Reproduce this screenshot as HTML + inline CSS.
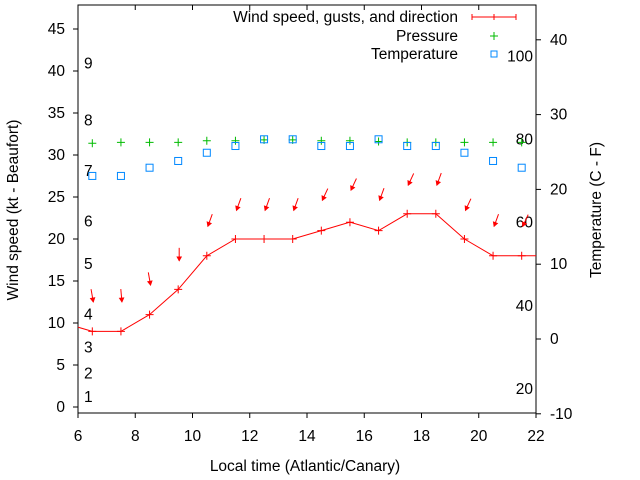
<!DOCTYPE html>
<html><head><meta charset="utf-8"><style>
html,body{margin:0;padding:0;background:#fff}
svg{display:block;font-family:"Liberation Sans",sans-serif}
</style></head><body>
<svg id="chart" width="640" height="480">
<g id="axes"></g>
<g id="marks"></g>
</svg>
<script>
const hours=[6.5,7.5,8.5,9.5,10.5,11.5,12.5,13.5,14.5,15.5,16.5,17.5,18.5,19.5,20.5,21.5];
const windSpeed=[9,9,11,14,18,20,20,20,21,22,21,23,23,20,18,18];
const gusts=[12.5,12.5,14.5,17.4,21.5,23.4,23.4,23.4,24.6,25.8,24.6,26.4,26.4,23.4,21.5,21.5];
const windDir=[350,355,350,0,20,20,20,20,25,25,20,25,20,25,20,25];
const pressure=[31.4,31.5,31.5,31.5,31.7,31.7,31.8,31.8,31.7,31.7,31.6,31.5,31.5,31.5,31.5,31.5];
const temperature=[21.8,21.8,22.9,23.8,24.9,25.8,26.7,26.7,25.8,25.8,26.7,25.8,25.8,24.9,23.8,22.9];
const xTicks=[6,8,10,12,14,16,18,20,22];
const yTicks=[0,5,10,15,20,25,30,35,40,45];
const y2Ticks=[-10,0,10,20,30,40];
const beaufort=[[1,1.2],[2,4.0],[3,7.1],[4,11.0],[5,17.0],[6,22.1],[7,28.1],[8,34.1],[9,40.9]];
const fahr=[20,40,60,80,100];

const FS=15.5;
const X0=78,X1=536,YT=5,YB=413;
const xs=v=>X0+(v-6)/16*(X1-X0);
const ys=v=>407-v*8.4;
const y2s=v=>339-v*7.48;
const NS='http://www.w3.org/2000/svg';
function mk(parent,tag,attrs,text){const e=document.createElementNS(NS,tag);for(const k in attrs)e.setAttribute(k,attrs[k]);if(text!==undefined)e.textContent=text;parent.appendChild(e);return e;}
const ax=document.getElementById('axes'),mg=document.getElementById('marks');

let fr=mk(ax,'rect',{x:X0,y:YT,width:X1-X0,height:YB-YT,fill:'none',stroke:'#000','stroke-width':1});


xTicks.forEach(t=>{const x=xs(t);
 mk(ax,'line',{x1:x,y1:YB,x2:x,y2:YB+5,stroke:'#000'});
 mk(ax,'line',{x1:x,y1:YT,x2:x,y2:YT+5,stroke:'#000'});
 const l=mk(ax,'text',{x:x,y:441,'text-anchor':'middle','font-size':FS},t);
 
 });
yTicks.forEach(t=>{const y=ys(t);
 mk(ax,'line',{x1:X0-5,y1:y,x2:X0,y2:y,stroke:'#000'});
 const l=mk(ax,'text',{x:X0-13,y:y+5,'text-anchor':'end','font-size':FS},t);
 
 });
y2Ticks.forEach(t=>{const y=y2s(t);
 mk(ax,'line',{x1:X1,y1:y,x2:X1+5,y2:y,stroke:'#000'});
 const l=mk(ax,'text',{x:550,y:y+5,'font-size':FS},t);
 
 });
beaufort.forEach(b=>{const l=mk(ax,'text',{x:84,y:ys(b[1])+5,'font-size':FS},b[0]);
 
 });
fahr.forEach(f=>{const c=(f-32)*5/9;const l=mk(ax,'text',{x:533,y:y2s(c)+5,'text-anchor':'end','font-size':FS},f);
 
 });
let t1=mk(ax,'text',{x:305,y:471,'text-anchor':'middle','font-size':FS},'Local time (Atlantic/Canary)');


let t2=mk(ax,'text',{x:18,y:210,'text-anchor':'middle','font-size':FS,transform:'rotate(-90 18 210)'},'Wind speed (kt - Beaufort)');


let t3=mk(ax,'text',{x:601,y:210,'text-anchor':'middle','font-size':FS,transform:'rotate(-90 601 210)'},'Temperature (C - F)');



const defs=mk(mg,'defs',{});const cp=mk(defs,'clipPath',{id:'cp'});mk(cp,'rect',{x:X0,y:YT,width:X1-X0,height:YB-YT});
const g=mk(mg,'g',{'clip-path':'url(#cp)'});
const pts=[[5.5,10]].concat(hours.map((h,i)=>[h,windSpeed[i]])).concat([[22.5,18]]);
let pl=mk(g,'polyline',{points:pts.map(p=>xs(p[0])+','+ys(p[1])).join(' '),fill:'none',stroke:'#f00','stroke-width':1});


function plus(x,y,c,name){const p=mk(g,'path',{d:`M${x-4},${y}h8M${x},${y-4}v8`,stroke:c,'stroke-width':1});
 
 }
hours.forEach((h,i)=>{
 plus(xs(h),ys(windSpeed[i]),'#f00','wind-point');
 plus(xs(h),ys(pressure[i]),'#0b0','pressure-point');
 const s=mk(g,'rect',{x:xs(h)-3.5,y:y2s(temperature[i])-3.5,width:7,height:7,fill:'none',stroke:'#08f','stroke-width':1});
 
 
 const hx=xs(h)+1,hy=ys(gusts[i]);const a=windDir[i]*Math.PI/180,L=13;
 const tx=hx+Math.sin(a)*L,ty=hy-Math.cos(a)*L;
 const ux=(hx-tx)/L,uy=(hy-ty)/L;
 const bx=hx-ux*4,by=hy-uy*4,px=-uy*2.2,py=ux*2.2;
 const ar=mk(g,'path',{d:`M${tx},${ty}L${hx},${hy}`,stroke:'#f00',fill:'none','stroke-width':1});
 
 
 const hd=mk(g,'path',{d:`M${bx+px},${by+py}L${hx},${hy}L${bx-px},${by-py}Z`,stroke:'#f00',fill:'#f00','stroke-width':0.8});
 
 
});
const lg=mk(ax,'g',{});


[['Wind speed, gusts, and direction',22],['Pressure',41],['Temperature',59]].forEach((e,i)=>{
 const t=mk(lg,'text',{x:458,y:e[1],'text-anchor':'end','font-size':FS},e[0]);
 
 });
mk(lg,'path',{d:'M472,17h44M472,14v6M494,14v6M516,14v6',stroke:'#f00'});
mk(lg,'path',{d:'M490,36h8M494,32v8',stroke:'#0b0'});
mk(lg,'rect',{x:491,y:51,width:6,height:6,fill:'none',stroke:'#08f'});
</script>
</body></html>
